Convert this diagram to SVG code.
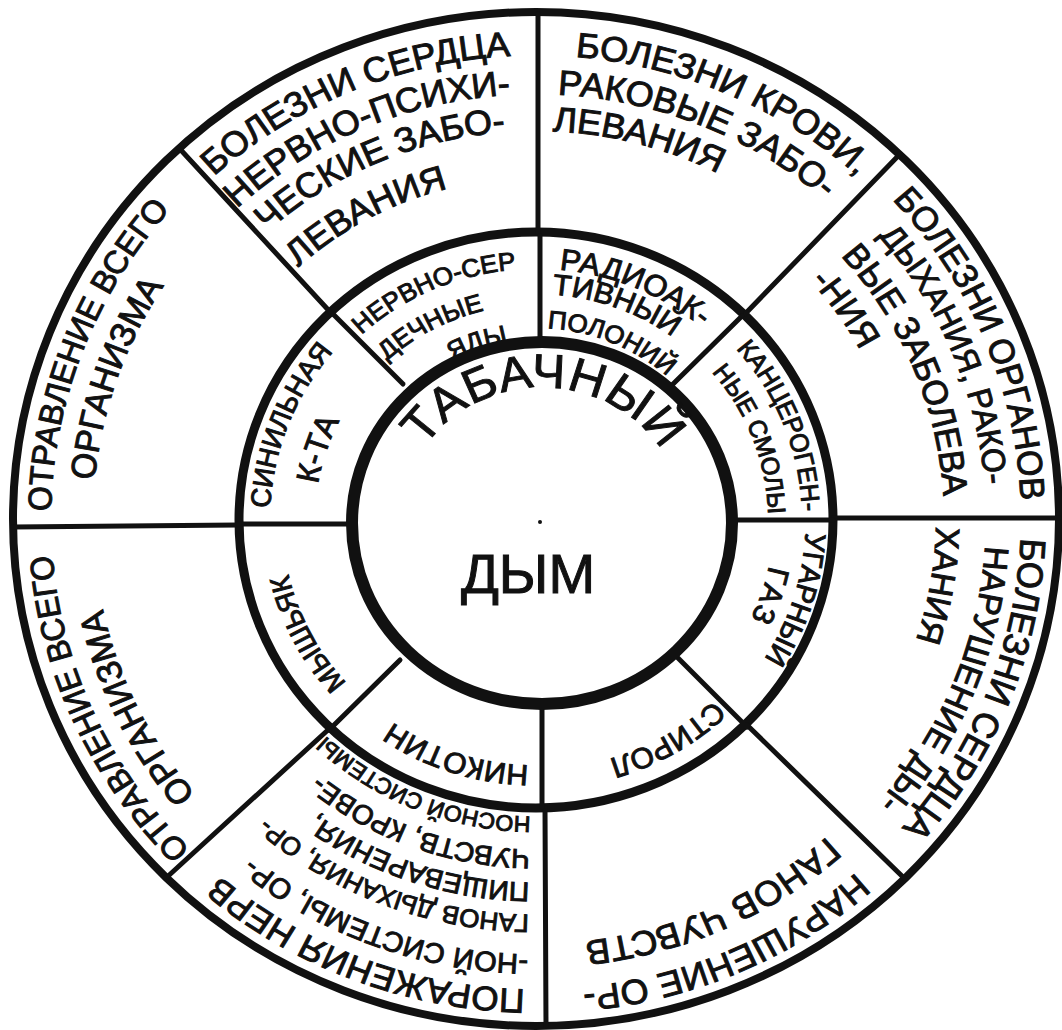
<svg xmlns="http://www.w3.org/2000/svg" width="1062" height="1030" viewBox="0 0 1062 1030">
<style>
.ring{fill:none;stroke:#111}
.sp{stroke:#111;stroke-width:5;stroke-linecap:round}
text{font-family:"Liberation Sans",Arial,sans-serif;fill:#111;stroke:#111;stroke-width:1}
.m{text-anchor:middle}
</style>
<defs>
<path id="a478" d="M -413.96 -239 A 478 478 0 0 1 413.96 -239"/>
<path id="a438" d="M -379.31 -219 A 438 438 0 0 1 379.31 -219"/>
<path id="a400" d="M -346.41 -200 A 400 400 0 0 1 346.41 -200"/>
<path id="a352" d="M -304.84 -176 A 352 352 0 0 1 304.84 -176"/>
<path id="a485" d="M -420.02 -242.5 A 485 485 0 0 1 420.02 -242.5"/>
<path id="a450" d="M -389.71 -225 A 450 450 0 0 1 389.71 -225"/>
<path id="a408" d="M -353.33 -204 A 408 408 0 0 1 353.33 -204"/>
<path id="a368" d="M -318.69 -184 A 368 368 0 0 1 318.69 -184"/>
<path id="a443" d="M -383.65 -221.5 A 443 443 0 0 1 383.65 -221.5"/>
<path id="s449" d="M 0 -449 A 449 449 0 0 1 388.83 224.5"/>
<path id="s408" d="M 0 -408 A 408 408 0 0 1 353.33 204"/>
<path id="s375" d="M 0 -375 A 375 375 0 0 1 324.76 187.5"/>
<path id="s341" d="M 0 -341 A 341 341 0 0 1 295.31 170.5"/>
<path id="s307" d="M 0 -307 A 307 307 0 0 1 265.87 153.5"/>
<path id="a258" d="M -223.43 -129 A 258 258 0 0 1 223.43 -129"/>
<path id="a221" d="M -191.39 -110.5 A 221 221 0 0 1 191.39 -110.5"/>
<path id="a184" d="M -159.35 -92 A 184 184 0 0 1 159.35 -92"/>
<path id="a232" d="M -200.92 -116 A 232 232 0 0 1 200.92 -116"/>
<path id="a197" d="M -170.6 -98.5 A 197 197 0 0 1 170.6 -98.5"/>
<path id="a266" d="M -230.36 -133 A 266 266 0 0 1 230.36 -133"/>
<path id="a270" d="M -233.83 -135 A 270 270 0 0 1 233.83 -135"/>
<path id="a238" d="M -206.11 -119 A 238 238 0 0 1 206.11 -119"/>
<path id="a254" d="M -219.97 -127 A 254 254 0 0 1 219.97 -127"/>
<path id="a142" d="M -139.84 -24.66 A 142 142 0 0 1 139.84 -24.66"/>
</defs>
<rect width="1062" height="1030" fill="#fff"/>
<g id="rings">
<ellipse class="ring" cx="536" cy="519" rx="523" ry="507" stroke-width="8"/>
<ellipse class="ring" cx="536" cy="520" rx="297" ry="288" stroke-width="9"/>
</g>
<g id="connectors">
<line class="sp" x1="538" y1="14" x2="538" y2="233"/>
<line class="sp" x1="900" y1="154" x2="745" y2="314"/>
<line class="sp" x1="833" y1="518" x2="1059" y2="518"/>
<line class="sp" x1="747" y1="725" x2="905" y2="879"/>
<line class="sp" x1="545" y1="808" x2="546" y2="1026"/>
<line class="sp" x1="329" y1="729" x2="166" y2="878"/>
<line class="sp" x1="13" y1="527" x2="238" y2="525"/>
<line class="sp" x1="179" y1="148" x2="332" y2="314"/>
<line class="sp" x1="540" y1="236" x2="540" y2="342"/>
<line class="sp" x1="742" y1="316" x2="669" y2="388"/>
<line class="sp" x1="730" y1="520" x2="833" y2="520"/>
<line class="sp" x1="677" y1="657" x2="747" y2="727"/>
<line class="sp" x1="542" y1="704" x2="542" y2="807"/>
<line class="sp" x1="400" y1="660" x2="329" y2="730"/>
<line class="sp" x1="352" y1="524" x2="238" y2="524"/>
<line class="sp" x1="333" y1="314" x2="403" y2="384"/>
</g>
<g transform="translate(536,519) scale(1,0.97)">
<g id="outer-nnw" font-size="36">
<text class="m" transform="rotate(337.3)"><textPath href="#a478" startOffset="50%">БОЛЕЗНИ СЕРДЦА</textPath></text>
<text class="m" transform="rotate(336.8)"><textPath href="#a438" startOffset="50%">НЕРВНО-ПСИХИ-</textPath></text>
<text class="m" transform="rotate(336.7)"><textPath href="#a400" startOffset="50%">ЧЕСКИЕ ЗАБО-</textPath></text>
<text class="m" transform="rotate(331.5)"><textPath href="#a352" startOffset="50%">ЛЕВАНИЯ</textPath></text>
</g>
<g id="outer-nne" font-size="36">
<text class="m" transform="rotate(23.5)"><textPath href="#a478" startOffset="50%">БОЛЕЗНИ КРОВИ,</textPath></text>
<text class="m" transform="rotate(22)"><textPath href="#a438" startOffset="50%">РАКОВЫЕ ЗАБО-</textPath></text>
<text class="m" transform="rotate(14.7)"><textPath href="#a400" startOffset="50%">ЛЕВАНИЯ</textPath></text>
</g>
<g id="outer-ene" font-size="35">
<text class="m" transform="rotate(67.5)"><textPath href="#a485" startOffset="50%">БОЛЕЗНИ ОРГАНОВ</textPath></text>
<text class="m" transform="rotate(67.5)" font-size="33"><textPath href="#a450" startOffset="50%">ДЫХАНИЯ, РАКО-</textPath></text>
<text class="m" transform="rotate(67.5)"><textPath href="#a408" startOffset="50%">ВЫЕ ЗАБОЛЕВА</textPath></text>
<text class="m" transform="rotate(55)"><textPath href="#a368" startOffset="50%">-НИЯ</textPath></text>
</g>
<g id="outer-ese" font-size="34">
<text class="m" transform="rotate(111.7)" font-size="36"><textPath href="#a485" startOffset="50%">БОЛЕЗНИ СЕРДЦА</textPath></text>
<text class="m" transform="rotate(112)"><textPath href="#a450" startOffset="50%">НАРУШЕНИЕ ДЫ-</textPath></text>
<text class="m" transform="rotate(99.7)"><textPath href="#a400" startOffset="50%">ХАНИЯ</textPath></text>
</g>
<g id="outer-sse" font-size="36">
<text class="m" transform="rotate(156.6)"><textPath href="#a485" startOffset="50%">НАРУШЕНИЕ ОР-</textPath></text>
<text class="m" transform="rotate(156)"><textPath href="#a438" startOffset="50%">ГАНОВ ЧУВСТВ</textPath></text>
</g>
<g id="outer-ssw" font-size="28">
<text class="m" transform="rotate(201)" font-size="35"><textPath href="#a485" startOffset="50%">ПОРАЖЕНИЯ НЕРВ</textPath></text>
<text transform="rotate(181)" font-size="29"><textPath href="#s449">-НОЙ СИСТЕМЫ, ОР-</textPath></text>
<text transform="rotate(181)" font-size="26"><textPath href="#s408">ГАНОВ ДЫХАНИЯ, ОР-</textPath></text>
<text transform="rotate(181)"><textPath href="#s375">ПИЩЕВАРЕНИЯ,</textPath></text>
<text transform="rotate(181)"><textPath href="#s341">ЧУВСТВ, КРОВЕ-</textPath></text>
<text transform="rotate(181)" font-size="23"><textPath href="#s307">НОСНОЙ СИСТЕМЫ</textPath></text>
</g>
<g id="outer-wsw" font-size="33">
<text class="m" transform="rotate(245.5)"><textPath href="#a485" startOffset="50%">ОТРАВЛЕНИЕ ВСЕГО</textPath></text>
<text class="m" transform="rotate(244)" font-size="35"><textPath href="#a443" startOffset="50%">ОРГАНИЗМА</textPath></text>
</g>
<g id="outer-wnw" font-size="33">
<text class="m" transform="rotate(291)"><textPath href="#a485" startOffset="50%">ОТРАВЛЕНИЕ ВСЕГО</textPath></text>
<text class="m" transform="rotate(289)" font-size="35"><textPath href="#a443" startOffset="50%">ОРГАНИЗМА</textPath></text>
</g>
<g id="mid-nnw" font-size="26">
<text class="m" transform="rotate(336.5)"><textPath href="#a258" startOffset="50%">НЕРВНО-СЕР</textPath></text>
<text class="m" transform="rotate(332)"><textPath href="#a221" startOffset="50%">ДЕЧНЫЕ</textPath></text>
<text class="m" transform="rotate(342)"><textPath href="#a184" startOffset="50%">ЯДЫ</textPath></text>
</g>
<g id="mid-nne" font-size="30">
<text class="m" transform="rotate(22.5)" font-size="31"><textPath href="#a258" startOffset="50%">РАДИОАК-</textPath></text>
<text class="m" transform="rotate(20)"><textPath href="#a232" startOffset="50%">ТИВНЫЙ</textPath></text>
<text class="m" transform="rotate(22.5)" font-size="26"><textPath href="#a197" startOffset="50%">ПОЛОНИЙ</textPath></text>
</g>
<g id="mid-ene" font-size="26">
<text class="m" transform="rotate(68.5)"><textPath href="#a266" startOffset="50%">КАНЦЕРОГЕН-</textPath></text>
<text class="m" transform="rotate(69)" font-size="25"><textPath href="#a232" startOffset="50%">НЫЕ СМОЛЫ</textPath></text>
</g>
<g id="mid-ese" font-size="29">
<text class="m" transform="rotate(107.7)"><textPath href="#a270" startOffset="50%">УГАРНЫЙ</textPath></text>
<text class="m" transform="rotate(109)" font-size="30" letter-spacing="3"><textPath href="#a238" startOffset="50%">ГАЗ</textPath></text>
</g>
<g id="mid-sse" font-size="30">
<text class="m" transform="rotate(150)"><textPath href="#a258" startOffset="50%">СТИРОЛ</textPath></text>
</g>
<g id="mid-ssw" font-size="30">
<text class="m" transform="rotate(198)"><textPath href="#a254" startOffset="50%">НИКОТИН</textPath></text>
</g>
<g id="mid-wsw" font-size="28">
<text class="m" transform="rotate(242.6)"><textPath href="#a254" startOffset="50%">МЫШЬЯК</textPath></text>
</g>
<g id="mid-wnw" font-size="28">
<text class="m" transform="rotate(291.4)"><textPath href="#a266" startOffset="50%">СИНИЛЬНАЯ</textPath></text>
<text class="m" transform="rotate(288.3)" font-size="32"><textPath href="#a221" startOffset="50%">К-ТА</textPath></text>
</g>
</g>
<g id="center">
<ellipse cx="542" cy="523" rx="190" ry="181" fill="#fff" stroke="#111" stroke-width="12"/>
<g transform="translate(542,523) scale(1,0.953)">
<text class="m" transform="rotate(1)" font-size="50" letter-spacing="1"><textPath href="#a142" startOffset="50%">ТАБАЧНЫЙ</textPath></text>
</g>
<text class="m" x="528" y="593" font-size="56">ДЫМ</text>
<circle cx="540" cy="522" r="2" fill="#111"/>
</g>
</svg>
